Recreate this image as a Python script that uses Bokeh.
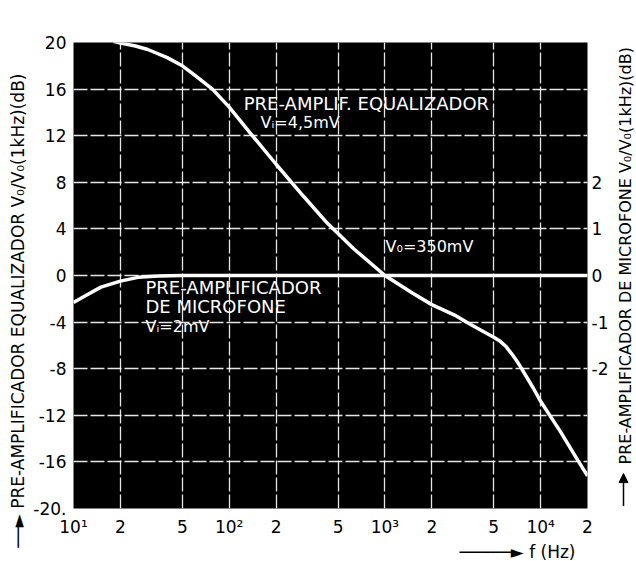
import math
from bokeh.plotting import figure
from bokeh.layouts import row
from bokeh.models import Range1d, LinearAxis, FixedTicker, Label, Arrow, NormalHead, Title
from bokeh.core.properties import value
from bokeh.embed import file_html
from bokeh.resources import INLINE

# ---------------- data ----------------
# Equalizer pre-amp response (left axis, dB)
freq_eq = [18, 20, 25, 30, 40, 50, 60, 78, 100, 137, 200, 300, 426, 630, 1000,
           1500, 2000, 2800, 3550, 5000, 5500, 6000, 6500, 7000, 7400, 9000,
           10000, 13400, 17300, 20000]
db_eq = [20.1, 19.95, 19.7, 19.4, 18.7, 18.0, 17.2, 16.0, 14.45, 12.2, 9.55, 6.8,
         4.5, 2.3, 0.0, -1.5, -2.5, -3.4, -4.2, -5.3, -5.65, -6.1, -6.7, -7.3,
         -7.8, -9.7, -10.8, -13.4, -15.85, -17.2]

# Microphone pre-amp response (right axis, dB)
freq_mic = [10, 12, 15, 20, 26, 35, 50, 100, 1000, 10000, 20000]
db_mic = [-0.58, -0.43, -0.25, -0.12, -0.04, -0.01, 0.0, 0.0, 0.0, 0.0, 0.0]

left_ticks = [-20, -16, -12, -8, -4, 0, 4, 8, 12, 16, 20]
left_tick_labels = ["-20.", "-16", "-12", "-8", "-4", "0", "4", "8", "12", "16", "20"]
right_ticks = [-2, -1, 0, 1, 2]
right_tick_labels = ["-2", "-1", "0", "1", "2"]
x_ticks = [10, 20, 50, 100, 200, 500, 1000, 2000, 5000, 10000, 20000]
x_tick_labels = ["10¹", "2", "5", "10²", "2", "5", "10³", "2", "5", "10⁴", "2"]
x_grid = [20, 50, 100, 200, 500, 1000, 2000, 5000, 10000]
y_grid = [-16, -12, -8, -4, 0, 4, 8, 12, 16]

NBSP = "\u00a0"
left_title = "──► PRE-AMPLIFICADOR EQUALIZADOR V₀/V₀(1kHz)(dB)" + NBSP * 13
right_title = "PRE-AMPLIFICADOR DE MICROFONE V₀/V₀(1kHz)(dB)"
x_title = "─────► f (Hz)"

FONT = "DejaVu Sans"

# ---------------- main plot ----------------
p = figure(width=612, height=561, x_axis_type="log",
           x_range=Range1d(10, 20000), y_range=Range1d(-20, 20),
           output_backend="svg", toolbar_location=None,
           min_border_left=73, min_border_right=25, min_border_top=42,
           min_border_bottom=49, background_fill_color="black",
           border_fill_color="white", outline_line_color=None)

p.extra_y_ranges = {"right": Range1d(-5, 5)}
raxis = LinearAxis(y_range_name="right", ticker=FixedTicker(ticks=right_ticks))
p.add_layout(raxis, "right")

p.xaxis.ticker = FixedTicker(ticks=x_ticks)
p.xaxis.major_label_overrides = {t: l for t, l in zip(x_ticks, x_tick_labels)}
p.yaxis[0].ticker = FixedTicker(ticks=left_ticks)
p.yaxis[0].major_label_overrides = {t: l for t, l in zip(left_ticks, left_tick_labels)}
raxis.major_label_overrides = {t: l for t, l in zip(right_ticks, right_tick_labels)}

for ax in [p.xaxis[0], p.yaxis[0], raxis]:
    ax.axis_line_color = None
    ax.major_tick_line_color = None
    ax.minor_tick_line_color = None
    ax.major_tick_out = 0
    ax.major_tick_in = 0
    ax.minor_tick_out = 0
    ax.major_label_text_font = FONT
    ax.major_label_text_font_size = "17px"
    ax.major_label_text_color = "black"
p.xaxis[0].major_label_standoff = 8
p.yaxis[0].major_label_standoff = 7
raxis.major_label_standoff = 4

ly = p.yaxis[0]
ly.axis_label = left_title
ly.axis_label_text_font = FONT
ly.axis_label_text_font_size = "17px"
ly.axis_label_text_font_style = "normal"
ly.axis_label_text_color = "black"
ly.axis_label_standoff = 2

p.xgrid[0].ticker = FixedTicker(ticks=x_grid)
p.ygrid[0].ticker = FixedTicker(ticks=y_grid)
for g in [p.xgrid[0], p.ygrid[0]]:
    g.grid_line_color = "white"
    g.grid_line_width = 1.3
    g.grid_line_dash = "14 3"
    g.grid_line_alpha = 0.9

p.line(freq_eq, db_eq, line_color="white", line_width=3.5)
p.line(freq_mic, db_mic, y_range_name="right", line_color="white", line_width=3.5)


def lab(text, x, y, size="16px"):
    p.add_layout(Label(x=x, y=y, text=text, text_font=FONT, text_font_size=size,
                       text_color="white", text_align="left",
                       text_baseline="middle"))


lab("PRE-AMPLIF. EQUALIZADOR", 124, 14.8, "18px")
lab("Vᵢ=4,5mV", 159, 13.1, "16px")
lab("PRE-AMPLIFICADOR", 29, -1.0, "18px")
lab("DE MICROFONE", 29, -2.7, "18px")
lab("Vᵢ=2mV", 29, -4.4, "16px")
lab("V₀=350mV", 1009, 2.5, "16px")

p.add_layout(Title(text=x_title, align="right", offset=12, standoff=0,
                   text_font=FONT, text_font_size="17px",
                   text_font_style="normal", text_color="black"), "below")

# ---------------- right strip with the rotated axis title ----------------
rs = figure(width=24, height=561, x_range=Range1d(0, 24), y_range=Range1d(0, 561),
            output_backend="svg", toolbar_location=None, title=None,
            x_axis_location=None, y_axis_location=None, min_border=0,
            outline_line_color=None, background_fill_color="white",
            border_fill_color="white")
rs.grid.visible = False
rs.text(x=[13], y=[53], text=[right_title], angle=math.pi / 2,
        text_align="left", text_baseline="middle", text_font=value(FONT),
        text_font_size="16px", text_color="black")
rs.add_layout(Arrow(x_start=11, y_start=3, x_end=11, y_end=42,
                    line_color="black", line_width=1.5,
                    end=NormalHead(size=9, fill_color="black", line_color="black")))

layout = row(p, rs)
open("out.html", "w").write(file_html(layout, INLINE))
